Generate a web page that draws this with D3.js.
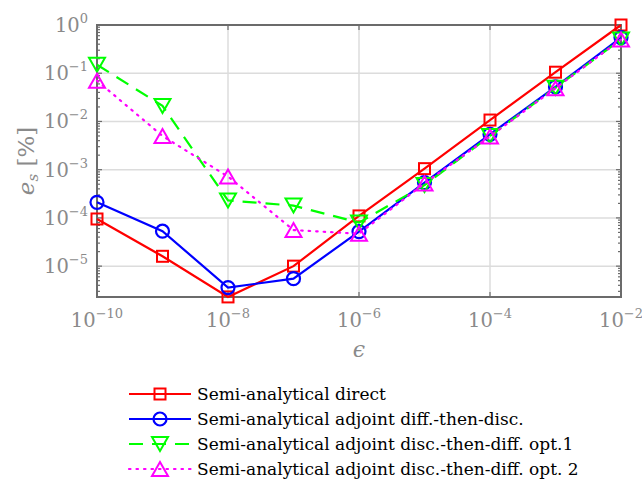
<!DOCTYPE html>
<html>
<head>
<meta charset="utf-8">
<script src="https://cdn.jsdelivr.net/npm/d3@7"></script>
<style>
  html, body { margin: 0; padding: 0; background: #fff; }
  svg { display: block; }
</style>
</head>
<body>
<svg id="chart" width="642" height="480" font-family="'DejaVu Serif', 'Liberation Serif', serif"></svg>
<script>
// Perturbation step sizes
const epsilon = [1e-10, 1e-9, 1e-8, 1e-7, 1e-6, 1e-5, 1e-4, 1e-3, 1e-2];

// Sensitivity error e_s [%] for each method
const direct      = [9.5e-5, 1.6e-5, 2.3e-6, 1.0e-5, 1.1e-4, 1.05e-3, 1.07e-2, 1.05e-1, 1.0];
const adjDiffDisc = [2.1e-4, 5.3e-5, 3.6e-6, 5.5e-6, 5.2e-5, 5.4e-4, 5.4e-3, 5.2e-2, 5.5e-1];
const adjDiscOpt1 = [1.5e-1, 2.1e-2, 2.3e-4, 1.8e-4, 8.0e-5, 4.8e-4, 5.0e-3, 5.0e-2, 5.0e-1];
const adjDiscOpt2 = [7.0e-2, 5.0e-3, 7.2e-4, 5.6e-5, 4.7e-5, 5.2e-4, 4.9e-3, 4.9e-2, 5.0e-1];

const seriesNames = [
  "Semi-analytical direct",
  "Semi-analytical adjoint diff.-then-disc.",
  "Semi-analytical adjoint disc.-then-diff. opt.1",
  "Semi-analytical adjoint disc.-then-diff. opt. 2"
];

const xTickExps = [-10, -8, -6, -4, -2];
const yTickExps = [0, -1, -2, -3, -4, -5];

const series = [
  { name: seriesNames[0], values: direct,      color: "#ff0000", marker: "square", dash: null },
  { name: seriesNames[1], values: adjDiffDisc, color: "#0000ff", marker: "circle", dash: null },
  { name: seriesNames[2], values: adjDiscOpt1, color: "#00ff00", marker: "tridown", dash: "14,9" },
  { name: seriesNames[3], values: adjDiscOpt2, color: "#ff00ff", marker: "triup", dash: "1.5,6" }
];

const svg = d3.select("#chart");
const plotL = 97, plotR = 621, plotT = 25, plotB = 297;

const x = d3.scaleLog().domain([1e-10, 1e-2]).range([plotL, plotR]);
const y = d3.scaleLog().domain([Math.pow(10, -5.64), 1]).range([plotB, plotT]);

const axisColor = "#6b6b6b";
const labelColor = "#8a8a8a";
const gridColor = "#dcdcdc";

// Grid lines at decades
const grid = svg.append("g");
xTickExps.forEach(e => {
  grid.append("line")
    .attr("x1", x(Math.pow(10, e))).attr("x2", x(Math.pow(10, e)))
    .attr("y1", plotT).attr("y2", plotB)
    .attr("stroke", gridColor).attr("stroke-width", 1.5);
});
yTickExps.forEach(e => {
  grid.append("line")
    .attr("x1", plotL).attr("x2", plotR)
    .attr("y1", y(Math.pow(10, e))).attr("y2", y(Math.pow(10, e)))
    .attr("stroke", gridColor).attr("stroke-width", 1.5);
});

// Y minor ticks (inside, on both sides)
const ticksG = svg.append("g").attr("stroke", axisColor);
const yMin = y.domain()[0];
for (let d = -6; d <= 0; d++) {
  for (let m = 1; m <= 9; m++) {
    const v = m * Math.pow(10, d);
    if (v < yMin || v > 1) continue;
    const len = m === 1 ? 5 : 3;
    const py = y(v);
    ticksG.append("line").attr("x1", plotL).attr("x2", plotL + len).attr("y1", py).attr("y2", py).attr("stroke-width", 1.2);
    ticksG.append("line").attr("x1", plotR).attr("x2", plotR - len).attr("y1", py).attr("y2", py).attr("stroke-width", 1.2);
  }
}
// X major ticks (inside, top and bottom)
xTickExps.forEach(e => {
  const px = x(Math.pow(10, e));
  ticksG.append("line").attr("x1", px).attr("x2", px).attr("y1", plotB).attr("y2", plotB - 5).attr("stroke-width", 1.2);
  ticksG.append("line").attr("x1", px).attr("x2", px).attr("y1", plotT).attr("y2", plotT + 5).attr("stroke-width", 1.2);
});

// Axes frame
svg.append("rect")
  .attr("x", plotL).attr("y", plotT)
  .attr("width", plotR - plotL).attr("height", plotB - plotT)
  .attr("fill", "none").attr("stroke", axisColor).attr("stroke-width", 2);

// Tick labels
function powLabel(g, px, py, exp, anchor) {
  const t = g.append("text")
    .attr("x", px).attr("y", py)
    .attr("text-anchor", anchor)
    .attr("fill", labelColor)
    .attr("font-size", 19.5);
  t.append("tspan").text("10");
  t.append("tspan").attr("dy", -9).attr("font-size", 13).text(exp === 0 ? "0" : "\u2212" + Math.abs(exp));
  return t;
}
const labels = svg.append("g");
xTickExps.forEach(e => powLabel(labels, x(Math.pow(10, e)), 327, e, "middle"));
yTickExps.forEach(e => powLabel(labels, 88, y(Math.pow(10, e)) + 7, e, "end"));

// Axis titles
svg.append("text")
  .attr("x", (plotL + plotR) / 2).attr("y", 357)
  .attr("text-anchor", "middle").attr("fill", labelColor)
  .attr("font-size", 22).attr("font-style", "italic").text("\u03f5");

const yt = svg.append("text")
  .attr("transform", `translate(34,${(plotT + plotB) / 2}) rotate(-90)`)
  .attr("text-anchor", "middle").attr("fill", labelColor).attr("font-size", 23);
yt.append("tspan").attr("font-style", "italic").text("e");
yt.append("tspan").attr("font-style", "italic").attr("font-size", 15).attr("dy", 4).text("s");
yt.append("tspan").attr("dy", -4).text(" [%]");

// Marker drawing
function drawMarker(g, type, cx, cy, color) {
  if (type === "square") {
    g.append("rect").attr("x", cx - 5.5).attr("y", cy - 5.5).attr("width", 11).attr("height", 11)
      .attr("fill", "none").attr("stroke", color).attr("stroke-width", 2);
  } else if (type === "circle") {
    g.append("circle").attr("cx", cx).attr("cy", cy).attr("r", 6.5)
      .attr("fill", "none").attr("stroke", color).attr("stroke-width", 2.2);
  } else if (type === "tridown") {
    const w = 8, h = 14;
    g.append("path").attr("d", `M${cx - w},${cy - h / 2}L${cx + w},${cy - h / 2}L${cx},${cy + h / 2}Z`)
      .attr("fill", "none").attr("stroke", color).attr("stroke-width", 2);
  } else if (type === "triup") {
    const w = 8, h = 14;
    g.append("path").attr("d", `M${cx - w},${cy + h / 2}L${cx + w},${cy + h / 2}L${cx},${cy - h / 2}Z`)
      .attr("fill", "none").attr("stroke", color).attr("stroke-width", 2);
  }
}

const line = d3.line().x((d, i) => x(epsilon[i])).y(d => y(d));
const plot = svg.append("g");
series.forEach(s => {
  plot.append("path").datum(s.values)
    .attr("d", line)
    .attr("fill", "none").attr("stroke", s.color).attr("stroke-width", 2.2)
    .attr("stroke-dasharray", s.dash)
    .attr("stroke-linecap", s.dash && s.dash.startsWith("1.5") ? "round" : "butt");
  s.values.forEach((v, i) => drawMarker(plot, s.marker, x(epsilon[i]), y(v), s.color));
});

// Legend
const legend = svg.append("g");
const rowY = [394, 419, 444, 469];
series.forEach((s, i) => {
  const ly = rowY[i];
  legend.append("line").attr("x1", 129).attr("x2", 191).attr("y1", ly).attr("y2", ly)
    .attr("stroke", s.color).attr("stroke-width", 2.2)
    .attr("stroke-dasharray", s.dash)
    .attr("stroke-linecap", s.dash && s.dash.startsWith("1.5") ? "round" : "butt");
  drawMarker(legend, s.marker, 160, ly, s.color);
  legend.append("text").attr("x", 197).attr("y", ly + 6)
    .attr("font-size", 17).attr("fill", "#000").text(s.name);
});
</script>
</body>
</html>
